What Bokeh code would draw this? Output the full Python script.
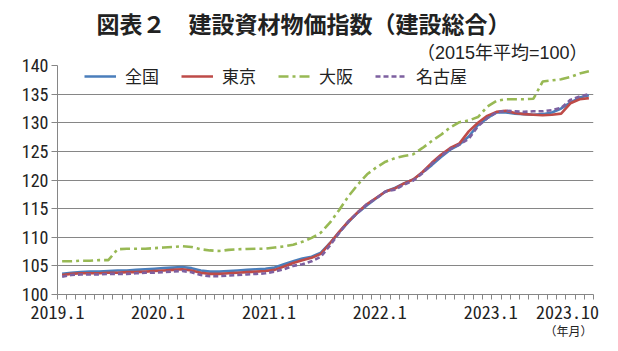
from bokeh.plotting import figure
from bokeh.models import Range1d, FixedTicker, Legend, LegendItem, Title
from bokeh.embed import file_html
from bokeh.resources import INLINE

# ---- data ----
months = [
    "2019.1", "2019.2", "2019.3", "2019.4", "2019.5", "2019.6", "2019.7", "2019.8", "2019.9", "2019.10", "2019.11", "2019.12",
    "2020.1", "2020.2", "2020.3", "2020.4", "2020.5", "2020.6", "2020.7", "2020.8", "2020.9", "2020.10", "2020.11", "2020.12",
    "2021.1", "2021.2", "2021.3", "2021.4", "2021.5", "2021.6", "2021.7", "2021.8", "2021.9", "2021.10", "2021.11", "2021.12",
    "2022.1", "2022.2", "2022.3", "2022.4", "2022.5", "2022.6", "2022.7", "2022.8", "2022.9", "2022.10", "2022.11", "2022.12",
    "2023.1", "2023.2", "2023.3", "2023.4", "2023.5", "2023.6", "2023.7", "2023.8", "2023.9", "2023.10",
]
tick_labels = ["2019.1", "2020.1", "2021.1", "2022.1", "2023.1", "2023.10"]

zenkoku = [
    103.6, 103.8, 103.9, 104.0, 104.0, 104.1, 104.2, 104.2, 104.3, 104.4, 104.5, 104.6,
    104.7, 104.8, 104.6, 104.2, 104.0, 104.0, 104.1, 104.2, 104.3, 104.4, 104.5, 104.7,
    105.3, 105.8, 106.3, 106.6, 107.3, 109.0, 110.9, 112.7, 114.3, 115.6, 116.8, 118.0,
    118.6, 119.4, 120.1, 121.3, 122.6, 124.0, 125.3, 126.2, 127.6, 129.6, 130.8, 131.8,
    131.8, 131.6, 131.5, 131.4, 131.5, 131.8, 132.5, 133.5, 134.4, 134.8,
]
tokyo = [
    103.4, 103.6, 103.7, 103.7, 103.7, 103.8, 103.8, 103.9, 103.9, 104.0, 104.1, 104.2,
    104.3, 104.4, 104.2, 103.8, 103.6, 103.6, 103.7, 103.8, 103.9, 104.0, 104.1, 104.3,
    104.9, 105.5, 106.0, 106.4, 107.1, 109.0, 111.0, 112.8, 114.4, 115.8, 116.9, 118.0,
    118.5, 119.4, 120.1, 121.4, 123.0, 124.4, 125.6, 126.4, 128.5, 130.0, 131.2, 131.9,
    132.1, 131.7, 131.5, 131.4, 131.3, 131.4, 131.6, 133.4, 134.1, 134.3,
]
osaka = [
    105.8, 105.8, 105.9, 105.9, 106.0, 106.0, 107.9, 108.0, 108.0, 108.0, 108.1, 108.2,
    108.3, 108.45, 108.3, 107.9, 107.7, 107.6, 107.8, 107.9, 107.95, 108.0, 108.0, 108.2,
    108.4, 108.7, 109.2, 109.9, 110.8, 112.6, 114.8, 117.2, 119.2, 121.0, 122.2, 123.2,
    123.8, 124.2, 124.5, 125.6, 126.8, 127.9, 129.2, 130.1, 130.4, 131.0, 132.8, 133.8,
    134.1, 134.1, 134.1, 134.2, 137.2, 137.4, 137.6, 138.0, 138.6, 139.0,
]
nagoya = [
    103.1, 103.4, 103.5, 103.5, 103.5, 103.6, 103.6, 103.6, 103.7, 103.8, 103.8, 103.9,
    104.0, 104.1, 103.9, 103.4, 103.2, 103.2, 103.3, 103.4, 103.5, 103.6, 103.7, 104.0,
    104.4, 105.0, 105.3, 105.8, 106.6, 108.6, 110.8, 112.8, 114.3, 115.8, 116.8, 118.0,
    118.3, 119.2, 119.9, 121.2, 122.8, 124.2, 125.4, 126.2, 127.2, 129.4, 130.8, 131.8,
    132.1, 132.0, 131.9, 132.0, 132.0, 132.2, 132.6, 134.0, 134.6, 135.0,
]
series_names = ["全国", "東京", "大阪", "名古屋"]
y_ticks = [100, 105, 110, 115, 120, 125, 130, 135, 140]

# ---- figure ----
JP = "Liberation Sans, Noto Sans CJK JP"
NUM = "Liberation Sans Narrow, Roboto Condensed, Liberation Sans"
GRAY = "#868686"
TXT = "#222222"

n = len(months)
xs = list(range(n))

p = figure(width=618, height=351, output_backend="svg", toolbar_location=None,
           x_range=Range1d(-0.5, n - 0.5), y_range=Range1d(100, 140),
           min_border_left=57, min_border_right=25, min_border_top=65, min_border_bottom=57)
p.outline_line_color = None
p.background_fill_color = "white"
p.border_fill_color = "white"

# y axis
p.yaxis.ticker = FixedTicker(ticks=y_ticks)
p.yaxis.major_label_text_font = NUM
p.yaxis.major_label_text_font_size = "18px"
p.yaxis.major_label_text_color = TXT
p.yaxis.major_tick_out = 6
p.yaxis.major_tick_in = 0
p.yaxis.minor_tick_out = 0
p.yaxis.minor_tick_in = 0
p.yaxis.major_label_standoff = 3
p.yaxis.axis_line_color = GRAY
p.yaxis.major_tick_line_color = GRAY

# x axis: monthly tick marks at category boundaries; year labels placed
# slightly left of their month (as in the original), kept inside the axis span
boundaries = [i - 0.5 for i in range(n + 1)]
label_pos = [min(max(months.index(lab) - 1.62, -0.5), n - 3.3) for lab in tick_labels]
p.xaxis.ticker = FixedTicker(ticks=label_pos, minor_ticks=boundaries)
p.xaxis.major_label_overrides = {pos: lab for pos, lab in zip(label_pos, tick_labels)}
p.xaxis.major_label_text_font = "Noto Sans Mono CJK JP"
p.xaxis.major_label_text_font_size = "18px"
p.xaxis.major_label_text_color = TXT
p.xaxis.major_label_standoff = 5
p.xaxis.major_tick_out = 0
p.xaxis.major_tick_in = 0
p.xaxis.major_tick_line_color = None
p.xaxis.minor_tick_out = 5
p.xaxis.minor_tick_in = 0
p.xaxis.minor_tick_line_color = GRAY
p.xaxis.axis_line_color = GRAY

p.xgrid.visible = False
p.ygrid.ticker = FixedTicker(ticks=y_ticks)
p.ygrid.grid_line_color = GRAY
p.ygrid.grid_line_width = 1

# lines
r1 = p.line(xs, zenkoku, line_color="#4A7EBB", line_width=2.6)
r2 = p.line(xs, tokyo, line_color="#BE4B48", line_width=2.6)
r3 = p.line(xs, osaka, line_color="#98B954", line_width=2.6, line_dash="10 4 3 4")
r4 = p.line(xs, nagoya, line_color="#7D60A0", line_width=2.6, line_dash="5 3")

legend = Legend(items=[LegendItem(label=s, renderers=[r]) for s, r in zip(series_names, [r1, r2, r3, r4])],
                orientation="horizontal", location=(27, 206),
                glyph_width=32, glyph_height=20, label_standoff=9, spacing=14, label_width=42,
                padding=0, margin=0, border_line_alpha=0, background_fill_alpha=0,
                label_text_font=JP, label_text_font_size="17px", label_text_color=TXT)
p.add_layout(legend)

# titles
p.add_layout(Title(text="（2015年平均=100）", align="right", offset=6, standoff=6,
                   text_font=JP, text_font_size="18px", text_font_style="normal", text_color=TXT), "above")
p.add_layout(Title(text="図表２　建設資材物価指数（建設総合）", align="left", offset=39, standoff=0,
                   text_font=JP, text_font_size="23px", text_font_style="bold", text_color=TXT), "above")
p.add_layout(Title(text="（年月）", align="right", offset=1, standoff=2,
                   text_font=JP, text_font_size="12px", text_font_style="normal", text_color=TXT), "below")

open("out.html", "w").write(file_html(p, INLINE))
